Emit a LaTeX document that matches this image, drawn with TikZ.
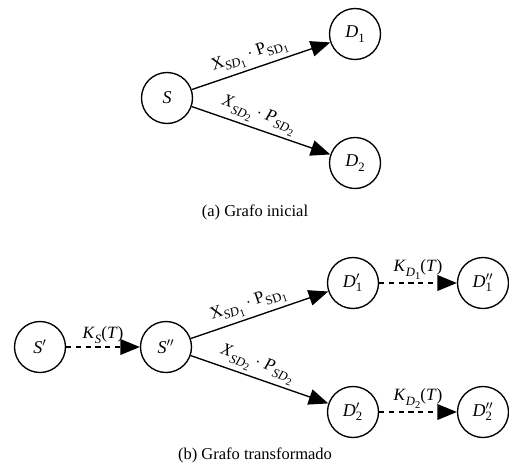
\documentclass[tikz,border=0pt]{standalone}
\usepackage{fontspec}
\setmainfont{Liberation Serif}
\usetikzlibrary{arrows.meta}
\newcommand{\sbs}[1]{\raisebox{-0.28em}{\fontsize{8.5}{9}\selectfont #1}}
\newcommand{\ssbs}[1]{\raisebox{-0.22em}{\fontsize{7}{8}\selectfont #1}}
\begin{document}
\begin{tikzpicture}[x=0.6667pt,y=-0.6667pt,
  vtx/.style={circle,draw,line width=0.9pt,minimum size=34pt,inner sep=0pt,font=\fontsize{12}{14}\selectfont},
  arr/.style={line width=0.9pt,-{Triangle[length=13pt,width=10.5pt]}},
  darr/.style={arr,dash pattern=on 3.5pt off 3pt},
  lbl/.style={font=\fontsize{11.5}{13}\selectfont,sloped,above,inner sep=2pt},
  captext/.style={font=\fontsize{11}{13}\selectfont}]
\useasboundingbox (0,0) rectangle (509,468);
% (a)
\node[vtx] (S) at (167,98) {\textit{S}};
\node[vtx] (D1) at (355,34) {\textit{D}\sbs{1}};
\node[vtx] (D2) at (355,163) {\textit{D}\sbs{2}};
\draw[arr] (S) -- node[lbl,pos=0.45] {X\sbs{\textit{SD}\ssbs{1}} $\cdot$ P\sbs{SD\ssbs{1}}} (D1);
\draw[arr] (S) -- node[lbl,pos=0.45] {\textit{X}\sbs{\textit{SD}\ssbs{2}} $\cdot$ \textit{P}\sbs{\textit{SD}\ssbs{2}}} (D2);
\node[captext] (capa) at (255,212) {(a) Grafo inicial};
% (b)
\node[vtx] (Sp) at (40,347) {\textit{S}$'$};
\node[vtx] (Spp) at (166,347) {\textit{S}$''$};
\node[vtx] (D1p) at (353,283) {\textit{D}$'_{\mbox{\fontsize{8.5}{9}\selectfont 1}}$};
\node[vtx] (D1pp) at (483,283) {\textit{D}$''_{\mbox{\fontsize{8.5}{9}\selectfont 1}}$};
\node[vtx] (D2p) at (353,412) {\textit{D}$'_{\mbox{\fontsize{8.5}{9}\selectfont 2}}$};
\node[vtx] (D2pp) at (483,412) {\textit{D}$''_{\mbox{\fontsize{8.5}{9}\selectfont 2}}$};
\draw[darr] (Sp) -- node[lbl] {\textit{K}\sbs{\textit{S}}(\textit{T})} (Spp);
\draw[arr] (Spp) -- node[lbl,pos=0.45] {X\sbs{\textit{SD}\ssbs{1}} $\cdot$ P\sbs{SD\ssbs{1}}} (D1p);
\draw[arr] (Spp) -- node[lbl,pos=0.45] {\textit{X}\sbs{\textit{SD}\ssbs{2}} $\cdot$ \textit{P}\sbs{\textit{SD}\ssbs{2}}} (D2p);
\draw[darr] (D1p) -- node[lbl] {\textit{K}\sbs{\textit{D}\ssbs{1}}(\textit{T})} (D1pp);
\draw[darr] (D2p) -- node[lbl] {\textit{K}\sbs{\textit{D}\ssbs{2}}(\textit{T})} (D2pp);
\node[captext] (capb) at (255,455) {(b) Grafo transformado};
\end{tikzpicture}
\end{document}
